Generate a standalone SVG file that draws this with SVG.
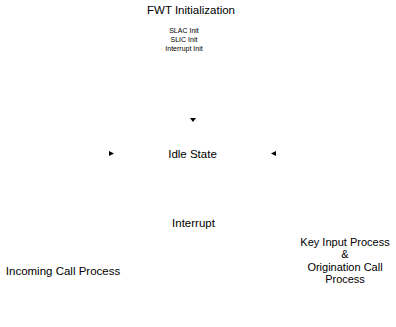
<svg xmlns="http://www.w3.org/2000/svg" width="396" height="327" viewBox="0 0 396 327">
<style>
text{font-family:"Liberation Sans",Arial,sans-serif;fill:#000;text-anchor:middle}
.t{font-size:11.5px}
.k{font-size:11px}
.s{font-size:7px}
.ah{fill:#000}
</style>
<rect width="396" height="327" fill="#fff"/>
<g id="init">
<text class="t" x="191" y="14">FWT Initialization</text>
<text class="s" x="184" y="33">SLAC Init</text>
<text class="s" x="184" y="42">SLIC Init</text>
<text class="s" x="184" y="51">Interrupt Init</text>
</g>
<g id="idle"><text class="t" x="192.5" y="158">Idle State</text></g>
<g id="interrupt"><text class="t" x="193.5" y="227">Interrupt</text></g>
<g id="incoming"><text class="t" x="63" y="275">Incoming Call Process</text></g>
<g id="keyinput">
<text class="k" x="345" y="246">Key Input Process</text>
<text class="k" x="345" y="258">&amp;</text>
<text class="k" x="345" y="271">Origination Call</text>
<text class="k" x="345" y="283">Process</text>
</g>
<g id="connectors">
<polygon class="ah" points="190,118 196,118 193,122"/>
<polygon class="ah" points="109,151 109,156 114,153.5"/>
<polygon class="ah" points="276,151 276,156 271,153.5"/>
</g>
</svg>
